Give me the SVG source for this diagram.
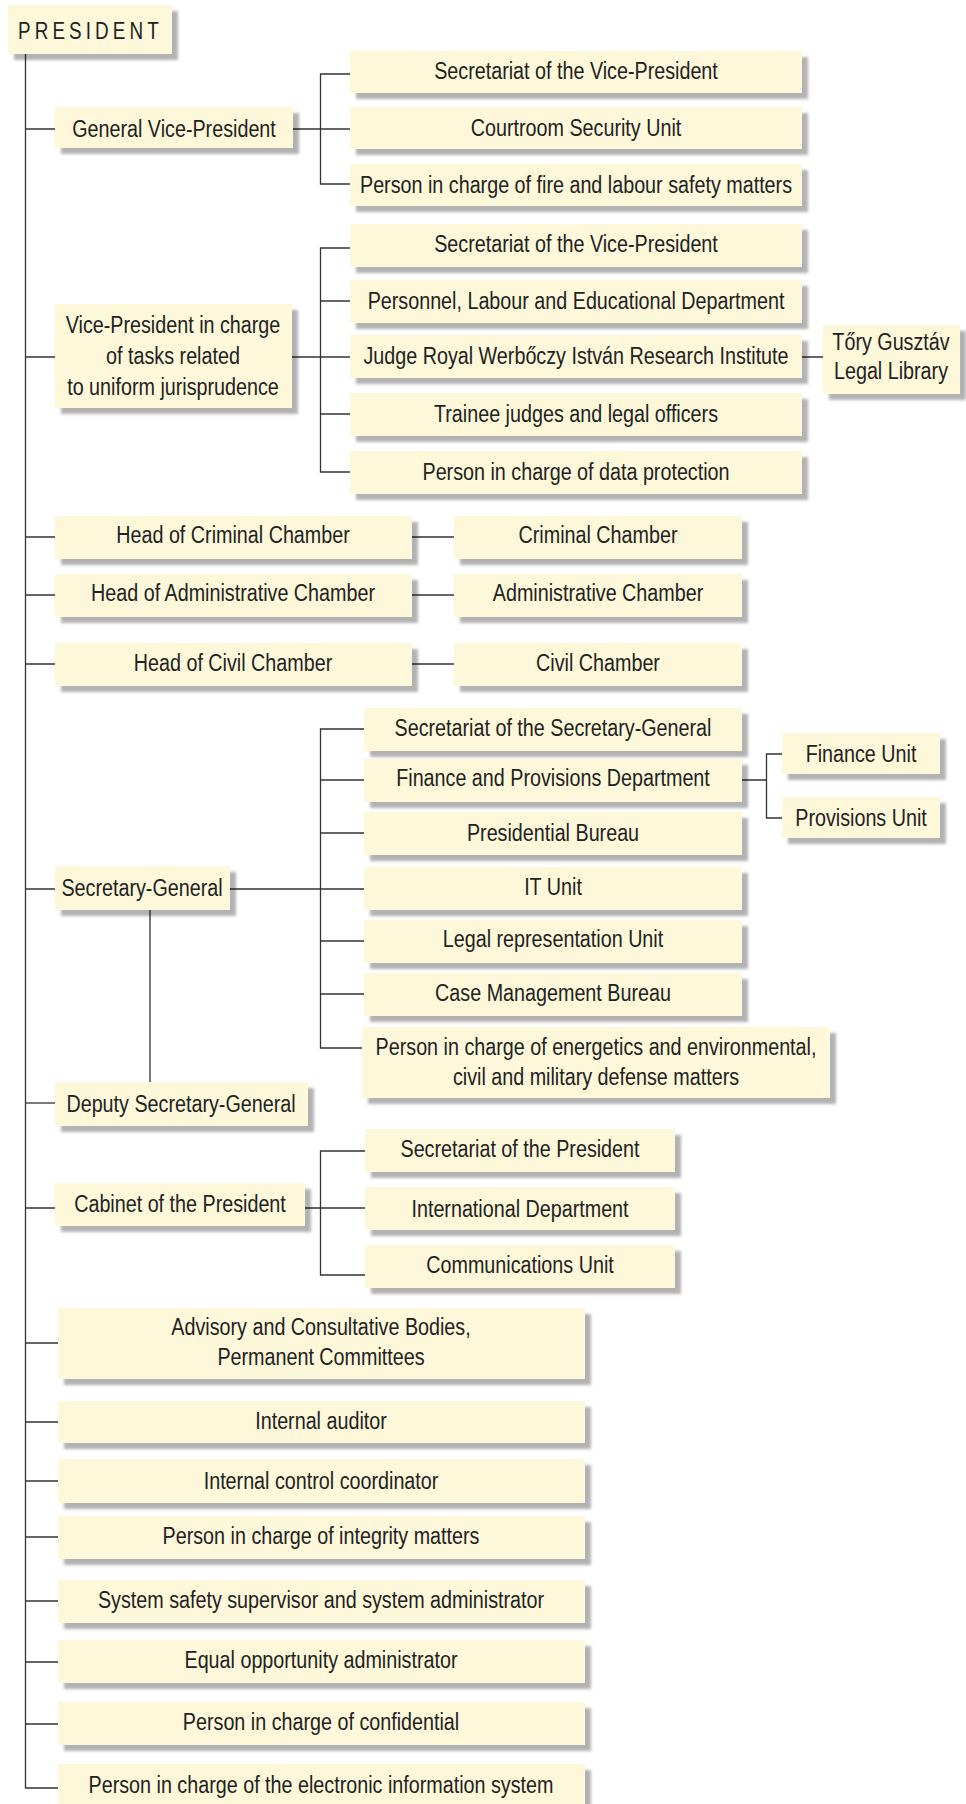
<svg xmlns="http://www.w3.org/2000/svg" width="966" height="1804" viewBox="0 0 966 1804">
<style>
.b{fill:#fdf8d9;filter:url(#sh)}
.t{font-family:'Liberation Sans',Arial,sans-serif;font-size:23.5px;fill:#222;text-anchor:middle}
.c{stroke:#333;stroke-width:1.3;fill:none}
</style>
<defs>
<filter id="sh" x="-5%" y="-20%" width="125%" height="170%">
<feDropShadow dx="6" dy="6" stdDeviation="1.5" flood-color="#000" flood-opacity="0.3"/>
</filter>
</defs>
<rect width="966" height="1804" fill="#fff"/>
<g id="connectors" class="c">
<path d="M25.5,54 V1788 H58"/>
<path d="M25.5,129 H55 M293,129 H350 M350,74 H320.5 V184 H350"/>
<path d="M25.5,357 H55 M292,357 H350 M350,248 H320.5 V472 H350 M320.5,301 H350 M320.5,414 H350 M802,357 H823"/>
<path d="M25.5,537 H55 M412,537 H454 M25.5,595 H55 M412,595 H454 M25.5,664 H55 M412,664 H454"/>
<path d="M25.5,889 H55 M230,889 H364 M364,729 H320.5 V1048 H362 M320.5,780 H364 M320.5,833 H364 M320.5,941 H364 M320.5,994 H364 M150,910 V1082"/>
<path d="M742,780 H766.5 M782,754 H766.5 V818 H782"/>
<path d="M25.5,1103 H55"/>
<path d="M25.5,1208 H55 M305,1208 H365 M365,1151 H320.5 V1275 H365"/>
<path d="M25.5,1343 H58 M25.5,1422 H58 M25.5,1481 H58 M25.5,1537 H58 M25.5,1601 H58 M25.5,1662 H58 M25.5,1724 H58"/>
</g>
<g id="president"><rect class="b" x="8" y="5" width="164" height="49"/><text transform="translate(18 39) scale(.82 1)" style="font-family:'Liberation Sans',Arial,sans-serif;font-size:23px;fill:#222;letter-spacing:5px">PRESIDENT</text></g>
<g id="gvp"><rect class="b" x="55" y="107" width="238" height="41"/><text class="t" transform="translate(174 137) scale(.84 1)">General Vice-President</text></g>
<g id="secvp1"><rect class="b" x="350" y="51" width="452" height="42"/><text class="t" transform="translate(576 79) scale(.84 1)">Secretariat of the Vice-President</text></g>
<g id="courtroom"><rect class="b" x="350" y="107" width="452" height="42"/><text class="t" transform="translate(576 136) scale(.84 1)">Courtroom Security Unit</text></g>
<g id="fire"><rect class="b" x="350" y="164" width="452" height="42"/><text class="t" transform="translate(576 193) scale(.84 1)">Person in charge of fire and labour safety matters</text></g>
<g id="vpuniform"><rect class="b" x="55" y="304" width="237" height="104"/><text class="t" transform="translate(173 333) scale(.84 1)">Vice-President in charge</text><text class="t" transform="translate(173 364) scale(.84 1)">of tasks related</text><text class="t" transform="translate(173 395) scale(.84 1)">to uniform jurisprudence</text></g>
<g id="secvp2"><rect class="b" x="350" y="224" width="452" height="43"/><text class="t" transform="translate(576 252) scale(.84 1)">Secretariat of the Vice-President</text></g>
<g id="personnel"><rect class="b" x="350" y="280" width="452" height="43"/><text class="t" transform="translate(576 309) scale(.84 1)">Personnel, Labour and Educational Department</text></g>
<g id="judge"><rect class="b" x="350" y="335" width="452" height="43"/><text class="t" transform="translate(576 364) scale(.84 1)">Judge Royal Werbőczy István Research Institute</text></g>
<g id="trainee"><rect class="b" x="350" y="393" width="452" height="43"/><text class="t" transform="translate(576 422) scale(.84 1)">Trainee judges and legal officers</text></g>
<g id="dataprot"><rect class="b" x="350" y="451" width="452" height="43"/><text class="t" transform="translate(576 480) scale(.84 1)">Person in charge of data protection</text></g>
<g id="tory"><rect class="b" x="823" y="325" width="137" height="69"/><text class="t" transform="translate(891 350) scale(.84 1)">Tőry Gusztáv</text><text class="t" transform="translate(891 379) scale(.84 1)">Legal Library</text></g>
<g id="headcrim"><rect class="b" x="55" y="516" width="357" height="43"/><text class="t" transform="translate(233 543) scale(.84 1)">Head of Criminal Chamber</text></g>
<g id="crim"><rect class="b" x="454" y="516" width="288" height="43"/><text class="t" transform="translate(598 543) scale(.84 1)">Criminal Chamber</text></g>
<g id="headadm"><rect class="b" x="55" y="574" width="357" height="43"/><text class="t" transform="translate(233 601) scale(.84 1)">Head of Administrative Chamber</text></g>
<g id="adm"><rect class="b" x="454" y="574" width="288" height="43"/><text class="t" transform="translate(598 601) scale(.84 1)">Administrative Chamber</text></g>
<g id="headciv"><rect class="b" x="55" y="643" width="357" height="43"/><text class="t" transform="translate(233 671) scale(.84 1)">Head of Civil Chamber</text></g>
<g id="civ"><rect class="b" x="454" y="643" width="288" height="43"/><text class="t" transform="translate(598 671) scale(.84 1)">Civil Chamber</text></g>
<g id="sg"><rect class="b" x="55" y="866" width="175" height="44"/><text class="t" transform="translate(142 896) scale(.84 1)">Secretary-General</text></g>
<g id="secsg"><rect class="b" x="364" y="708" width="378" height="43"/><text class="t" transform="translate(553 736) scale(.84 1)">Secretariat of the Secretary-General</text></g>
<g id="finprov"><rect class="b" x="364" y="759" width="378" height="43"/><text class="t" transform="translate(553 786) scale(.84 1)">Finance and Provisions Department</text></g>
<g id="presbureau"><rect class="b" x="364" y="812" width="378" height="43"/><text class="t" transform="translate(553 841) scale(.84 1)">Presidential Bureau</text></g>
<g id="it"><rect class="b" x="364" y="867" width="378" height="43"/><text class="t" transform="translate(553 895) scale(.84 1)">IT Unit</text></g>
<g id="legal"><rect class="b" x="364" y="920" width="378" height="43"/><text class="t" transform="translate(553 947) scale(.84 1)">Legal representation Unit</text></g>
<g id="case"><rect class="b" x="364" y="973" width="378" height="43"/><text class="t" transform="translate(553 1001) scale(.84 1)">Case Management Bureau</text></g>
<g id="energetics"><rect class="b" x="362" y="1027" width="468" height="71"/><text class="t" transform="translate(596 1055) scale(.84 1)">Person in charge of energetics and environmental,</text><text class="t" transform="translate(596 1085) scale(.84 1)">civil and military defense matters</text></g>
<g id="finunit"><rect class="b" x="782" y="733" width="158" height="41"/><text class="t" transform="translate(861 762) scale(.84 1)">Finance Unit</text></g>
<g id="provunit"><rect class="b" x="782" y="797" width="158" height="41"/><text class="t" transform="translate(861 826) scale(.84 1)">Provisions Unit</text></g>
<g id="deputy"><rect class="b" x="55" y="1082" width="253" height="44"/><text class="t" transform="translate(181 1112) scale(.84 1)">Deputy Secretary-General</text></g>
<g id="cabinet"><rect class="b" x="55" y="1183" width="250" height="43"/><text class="t" transform="translate(180 1212) scale(.84 1)">Cabinet of the President</text></g>
<g id="secpres"><rect class="b" x="365" y="1129" width="310" height="43"/><text class="t" transform="translate(520 1157) scale(.84 1)">Secretariat of the President</text></g>
<g id="intl"><rect class="b" x="365" y="1187" width="310" height="43"/><text class="t" transform="translate(520 1217) scale(.84 1)">International Department</text></g>
<g id="comm"><rect class="b" x="365" y="1245" width="310" height="43"/><text class="t" transform="translate(520 1273) scale(.84 1)">Communications Unit</text></g>
<g id="advisory"><rect class="b" x="58" y="1308" width="527" height="71"/><text class="t" transform="translate(321 1335) scale(.84 1)">Advisory and Consultative Bodies,</text><text class="t" transform="translate(321 1365) scale(.84 1)">Permanent Committees</text></g>
<g id="auditor"><rect class="b" x="58" y="1401" width="527" height="42"/><text class="t" transform="translate(321 1429) scale(.84 1)">Internal auditor</text></g>
<g id="control"><rect class="b" x="58" y="1459" width="527" height="44"/><text class="t" transform="translate(321 1489) scale(.84 1)">Internal control coordinator</text></g>
<g id="integrity"><rect class="b" x="58" y="1516" width="527" height="43"/><text class="t" transform="translate(321 1544) scale(.84 1)">Person in charge of integrity matters</text></g>
<g id="syssafety"><rect class="b" x="58" y="1580" width="527" height="43"/><text class="t" transform="translate(321 1608) scale(.84 1)">System safety supervisor and system administrator</text></g>
<g id="equal"><rect class="b" x="58" y="1640" width="527" height="43"/><text class="t" transform="translate(321 1668) scale(.84 1)">Equal opportunity administrator</text></g>
<g id="confidential"><rect class="b" x="58" y="1702" width="527" height="43"/><text class="t" transform="translate(321 1730) scale(.84 1)">Person in charge of confidential</text></g>
<g id="electronic"><rect class="b" x="58" y="1764" width="527" height="46"/><text class="t" transform="translate(321 1793) scale(.84 1)">Person in charge of the electronic information system</text></g>
</svg>
